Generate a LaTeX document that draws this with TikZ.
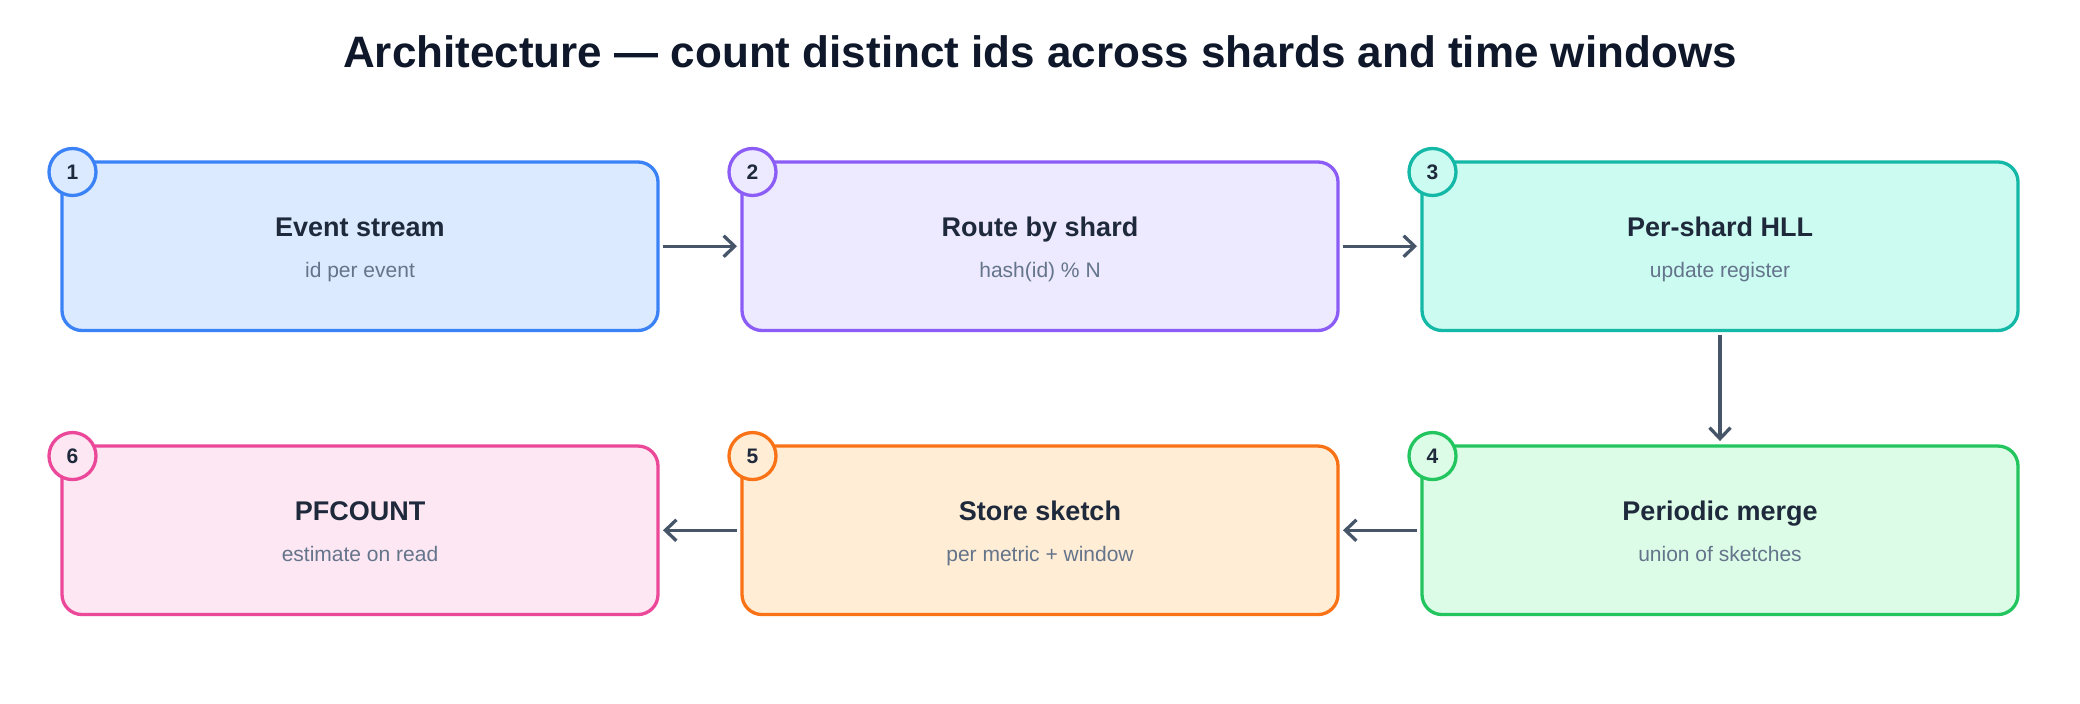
\documentclass[tikz,border=0pt]{standalone}
\usepackage{fontspec}
\setmainfont{Liberation Sans}
\usetikzlibrary{arrows.meta}
\definecolor{inkdark}{HTML}{0F172A}
\definecolor{inktitle}{HTML}{1E293B}
\definecolor{inksub}{HTML}{64748B}
\definecolor{arrowgray}{HTML}{475569}
\definecolor{blueline}{HTML}{3B82F6}\definecolor{bluefill}{HTML}{DBEAFE}
\definecolor{purpleline}{HTML}{8B5CF6}\definecolor{purplefill}{HTML}{EDE9FE}
\definecolor{tealline}{HTML}{14B8A6}\definecolor{tealfill}{HTML}{CCFBF1}
\definecolor{greenline}{HTML}{22C55E}\definecolor{greenfill}{HTML}{DCFCE7}
\definecolor{orangeline}{HTML}{F97316}\definecolor{orangefill}{HTML}{FFEDD5}
\definecolor{pinkline}{HTML}{EC4899}\definecolor{pinkfill}{HTML}{FCE7F3}

\begin{document}
\begin{tikzpicture}[x=1pt,y=1pt]
\tikzset{stage/.style 2 args = {shape=rectangle,draw=#1,fill=#2,line width=3.3pt,rounded corners=20pt,minimum width=596pt,minimum height=168.5pt,outer sep=0pt}}
\tikzset{badge/.style 2 args = {shape=circle,draw=#1,fill=#2,line width=3.3pt,minimum size=47pt,inner sep=0pt,font=\fontsize{21}{21}\selectfont\bfseries,text=inktitle}}
\tikzset{stagetitle/.style = {anchor=base,font=\fontsize{27}{27}\selectfont\bfseries,text=inktitle}}
\tikzset{stagesub/.style = {anchor=base,font=\fontsize{21}{21}\selectfont,text=inksub}}
\tikzset{edge/.style = {-{Straight Barb[length=11pt,width=21pt]},line width=3.3pt,draw=arrowgray,shorten <=5pt,shorten >=5pt}}
\useasboundingbox[fill=white] (0,0) rectangle (2080,704);
\node[anchor=base,font=\fontsize{44}{44}\selectfont\bfseries,text=inkdark] (title) at (1040,636.7) {Architecture — count distinct ids across shards and time windows};
% top row
\node[stage={blueline}{bluefill}] (s1) at (360,457.75) {};
\node[stage={purpleline}{purplefill}] (s2) at (1040,457.75) {};
\node[stage={tealline}{tealfill}] (s3) at (1720,457.75) {};
% bottom row
\node[stage={greenline}{greenfill}] (s4) at (1720,173.7) {};
\node[stage={orangeline}{orangefill}] (s5) at (1040,173.7) {};
\node[stage={pinkline}{pinkfill}] (s6) at (360,173.7) {};
\foreach \s/\t/\u in {s1/Event stream/id per event, s2/Route by shard/hash(id) \% N, s3/Per-shard HLL/update register, s4/Periodic merge/union of sketches, s5/Store sketch/per metric + window, s6/PFCOUNT/estimate on read}{
  \node[stagetitle] (\s-title) at ([yshift=9.5pt]\s.center) {\t};
  \node[stagesub] (\s-sub) at ([yshift=-31pt]\s.center) {\u};
}
\node[badge={blueline}{bluefill}] (n1) at ([xshift=10.5pt,yshift=-10pt]s1.north west) {1};
\node[badge={purpleline}{purplefill}] (n2) at ([xshift=10.5pt,yshift=-10pt]s2.north west) {2};
\node[badge={tealline}{tealfill}] (n3) at ([xshift=10.5pt,yshift=-10pt]s3.north west) {3};
\node[badge={greenline}{greenfill}] (n4) at ([xshift=10.5pt,yshift=-10pt]s4.north west) {4};
\node[badge={orangeline}{orangefill}] (n5) at ([xshift=10.5pt,yshift=-10pt]s5.north west) {5};
\node[badge={pinkline}{pinkfill}] (n6) at ([xshift=10.5pt,yshift=-10pt]s6.north west) {6};
\draw[edge] (s1) to (s2);
\draw[edge] (s2) to (s3);
\draw[edge] (s3) to (s4);
\draw[edge] (s4) to (s5);
\draw[edge] (s5) to (s6);
\end{tikzpicture}
\end{document}
